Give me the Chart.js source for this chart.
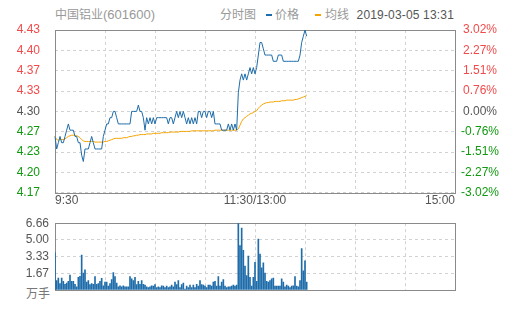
<!DOCTYPE html>
<html>
<head>
<meta charset="utf-8">
<script src="https://cdn.jsdelivr.net/npm/chart.js@4.4.1/dist/chart.umd.min.js"></script>
<style>
body{margin:0;width:505px;height:310px;background:#fff;position:relative;overflow:hidden;
  font-family:"Liberation Sans",Arial,"Noto Sans CJK SC",sans-serif;}
.t{position:absolute;font-size:12px;line-height:14px;white-space:nowrap;}
.dash{position:absolute;width:6px;height:2px;}
canvas{position:absolute;left:0;}
</style>
</head>
<body>
<div class="t" style="left:55px;top:8px;color:#999">中国铝业<span style="font-size:13px">(601600)</span></div>
<div class="t" style="left:220px;top:8px;color:#999">分时图</div>
<div class="dash" style="left:266px;top:14px;background:#1e6ca9"></div>
<div class="t" style="left:275px;top:8px;color:#999">价格</div>
<div class="dash" style="left:315px;top:14px;background:#f5a300"></div>
<div class="t" style="left:325px;top:8px;color:#999">均线</div>
<div class="t" style="right:51px;top:8px;color:#555;letter-spacing:0.17px">2019-03-05 13:31</div>
<div class="t" id="unit" style="left:26px;top:287px;color:#777"></div>

<canvas id="priceChart" width="505" height="215" style="top:0"></canvas>
<canvas id="volChart" width="505" height="100" style="top:210px"></canvas>

<script>
// ================================
// DATA (one value per minute from 9:30)
// ================================
const price = [
  4.26,4.24,4.25,4.26,4.25,4.25,4.26,4.27,4.28,4.27,
  4.27,4.27,4.26,4.26,4.25,4.25,4.23,4.22,4.24,4.24,
  4.24,4.25,4.26,4.25,4.24,4.24,4.24,4.24,4.24,4.26,
  4.27,4.28,4.28,4.29,4.29,4.30,4.30,4.29,4.28,4.28,
  4.28,4.28,4.28,4.28,4.28,4.28,4.30,4.30,4.30,4.30,
  4.31,4.30,4.30,4.29,4.27,4.29,4.28,4.29,4.28,4.29,
  4.28,4.29,4.29,4.29,4.29,4.29,4.29,4.29,4.28,4.29,
  4.29,4.28,4.29,4.30,4.29,4.30,4.29,4.30,4.29,4.28,
  4.29,4.28,4.29,4.28,4.29,4.28,4.30,4.30,4.29,4.30,
  4.30,4.29,4.30,4.30,4.29,4.30,4.28,4.28,4.28,4.28,
  4.27,4.27,4.27,4.27,4.28,4.27,4.28,4.27,4.28,4.27,
  4.33,4.35,4.36,4.35,4.36,4.35,4.36,4.37,4.36,4.37,
  4.36,4.37,4.39,4.41,4.41,4.40,4.39,4.39,4.39,4.39,
  4.39,4.38,4.38,4.38,4.39,4.39,4.39,4.38,4.38,4.38,
  4.38,4.38,4.38,4.38,4.38,4.38,4.38,4.39,4.41,4.42,
  4.43,4.42
];
const avg = [
  4.260,4.255,4.254,4.255,4.255,4.255,4.256,4.258,4.260,4.261,
  4.262,4.262,4.262,4.261,4.260,4.258,4.255,4.253,4.252,4.252,
  4.252,4.252,4.252,4.252,4.251,4.251,4.251,4.251,4.251,4.251,
  4.252,4.252,4.253,4.254,4.255,4.256,4.257,4.257,4.257,4.257,
  4.257,4.258,4.258,4.258,4.259,4.260,4.260,4.261,4.261,4.262,
  4.262,4.263,4.263,4.263,4.263,4.264,4.264,4.264,4.264,4.265,
  4.265,4.265,4.265,4.265,4.266,4.266,4.266,4.266,4.266,4.267,
  4.267,4.267,4.267,4.267,4.267,4.268,4.268,4.268,4.268,4.268,
  4.268,4.268,4.269,4.269,4.269,4.269,4.269,4.269,4.269,4.269,
  4.269,4.269,4.269,4.269,4.269,4.269,4.270,4.270,4.270,4.270,
  4.270,4.270,4.270,4.270,4.270,4.270,4.270,4.270,4.270,4.270,
  4.272,4.278,4.284,4.288,4.290,4.292,4.294,4.296,4.297,4.298,
  4.300,4.301,4.305,4.308,4.310,4.312,4.313,4.314,4.314,4.315,
  4.315,4.315,4.316,4.316,4.316,4.316,4.317,4.317,4.317,4.318,
  4.318,4.318,4.318,4.318,4.319,4.319,4.320,4.321,4.322,4.323,
  4.324,4.326
];
const volume = [
  3.71,0.95,1.20,0.63,1.20,0.86,0.57,0.70,0.86,1.49,
  0.86,0.86,0.57,0.32,1.27,1.36,3.49,1.68,2.00,0.79,
  0.95,0.54,0.63,0.57,1.33,0.57,0.63,0.86,1.17,0.41,
  0.79,0.79,0.40,0.63,1.05,1.74,1.33,0.70,0.32,0.41,
  0.32,0.41,0.32,0.32,0.32,1.33,1.11,0.95,1.27,0.54,
  0.86,0.57,0.95,0.57,0.48,0.32,0.25,0.32,0.41,0.38,
  0.54,0.25,0.32,0.25,0.41,0.38,0.25,0.38,0.25,0.32,
  0.48,0.32,0.79,0.54,0.95,0.25,0.54,0.70,0.10,0.38,
  0.25,0.48,0.25,0.48,0.25,0.57,0.38,0.95,0.54,0.48,
  0.38,0.25,0.48,0.48,0.38,0.79,0.86,0.38,1.33,0.38,
  0.79,1.05,0.38,0.25,0.32,0.32,0.38,0.48,0.38,0.48,
  6.66,4.44,6.18,3.96,2.38,1.43,3.39,1.27,0.38,1.27,
  2.76,0.86,5.07,3.58,2.22,2.70,1.68,0.86,0.79,0.95,
  1.11,1.20,0.38,0.38,0.38,0.38,1.11,0.79,0.32,0.48,
  0.38,0.25,0.38,0.41,1.33,0.38,0.32,0.95,4.12,1.90,
  2.92,0.80
];

// axis ticks
const priceTickLabels = ['4.17','4.20','4.23','4.27','4.30','4.33','4.37','4.40','4.43'];
const pctTickLabels = ['-3.02%','-2.27%','-1.51%','-0.76%','0.00%','0.76%','1.51%','2.27%','3.02%'];
const volTickLabels = ['', '1.67', '3.33', '5.00', '6.66'];
const volUnit = '万手';
const timeTicks = [0, 120, 240];
const timeLabels = ['9:30', '11:30/13:00', '15:00'];
const gridMinutes = [0, 30, 60, 90, 120, 150, 180, 210, 240];

const priceMin = 4.17, priceMax = 4.43;
const pctMin = -3.02, pctMax = 3.02;
const volMax = 6.66;

// colors
const BLUE = '#1e6ca9';
const ORANGE = '#f5a300';
const RED = '#f24a4a';
const GREEN = '#119911';
const GREY = '#555';
const GRID = '#d2d2d2';

document.getElementById('unit').innerText = volUnit;

// ================================
// HELPERS
// ================================
const evenTicks = (min, max, n) => {
    const out = [];
    for(let i = 0; i < n; i++) out.push({ value: min + (max - min) * i / (n - 1) });
    return out;
};
const upDownColor = ctx => ctx.index < 4 ? GREEN : ctx.index === 4 ? GREY : RED;

const frame = {
    id: 'frame',
    beforeDatasetsDraw(chart){
        const a = chart.chartArea, ctx = chart.ctx;
        ctx.save();
        ctx.strokeStyle = '#8a8a8a';
        ctx.lineWidth = 1;
        ctx.strokeRect(Math.round(a.left) + 0.5, Math.round(a.top) + 0.5,
                       Math.round(a.right - a.left), Math.round(a.bottom - a.top));
        ctx.restore();
    }
};

Chart.defaults.font.family = '"Liberation Sans", Arial, "Noto Sans CJK SC", sans-serif';
Chart.defaults.font.size = 12;

// ================================
// PRICE CHART
// ================================
new Chart(document.getElementById('priceChart'), {
    type: 'line',
    data: {
        datasets: [
            {
                label: '价格',
                data: price.map((v, i) => ({ x: i, y: v })),
                borderColor: BLUE,
                borderWidth: 1,
                pointRadius: 0,
                tension: 0,
                clip: 2,
                yAxisID: 'y'
            },
            {
                label: '均线',
                data: avg.map((v, i) => ({ x: i, y: v })),
                borderColor: ORANGE,
                borderWidth: 1,
                pointRadius: 0,
                tension: 0,
                clip: 2,
                yAxisID: 'y'
            }
        ]
    },
    options: {
        responsive: false,
        animation: false,
        layout: { padding: { top: 30, left: 0, right: 0, bottom: 0 } },
        plugins: { legend: { display: false }, tooltip: { enabled: false } },
        scales: {
            x: {
                type: 'linear', min: 0, max: 240, offset: false,
                afterBuildTicks: s => { s.ticks = gridMinutes.map(v => ({ value: v })); },
                afterFit: s => { s.height = 15; },
                grid: { color: GRID, drawTicks: false },
                border: { display: false, dash: [3, 3] },
                ticks: {
                    align: 'inner', maxRotation: 0, autoSkip: false, padding: 1, color: GREY,
                    callback: v => { const k = timeTicks.indexOf(v); return k < 0 ? '' : timeLabels[k]; }
                }
            },
            y: {
                position: 'left', min: priceMin, max: priceMax,
                afterBuildTicks: s => { s.ticks = evenTicks(priceMin, priceMax, priceTickLabels.length); },
                afterFit: s => { s.width = 55; },
                grid: { color: GRID, drawTicks: false },
                border: { display: false, dash: [3, 3] },
                ticks: { autoSkip: false, padding: 15, color: upDownColor, callback: (v, i) => priceTickLabels[i] }
            },
            y1: {
                position: 'right', min: pctMin, max: pctMax,
                afterBuildTicks: s => { s.ticks = evenTicks(pctMin, pctMax, pctTickLabels.length); },
                afterFit: s => { s.width = 50; },
                grid: { display: false, drawTicks: false },
                border: { display: false },
                ticks: { autoSkip: false, crossAlign: 'center', padding: 6, color: upDownColor, callback: (v, i) => pctTickLabels[i] }
            }
        }
    },
    plugins: [frame]
});

// ================================
// VOLUME CHART
// ================================
new Chart(document.getElementById('volChart'), {
    type: 'bar',
    data: {
        datasets: [{
            data: volume.map((v, i) => ({ x: i, y: v })),
            backgroundColor: BLUE,
            barThickness: 1,
            grouped: false,
            yAxisID: 'y'
        }]
    },
    options: {
        responsive: false,
        animation: false,
        layout: { padding: { top: 10, left: 0, right: 0, bottom: 0 } },
        plugins: { legend: { display: false }, tooltip: { enabled: false } },
        scales: {
            x: {
                type: 'linear', min: 0, max: 240, offset: false,
                afterBuildTicks: s => { s.ticks = gridMinutes.map(v => ({ value: v })); },
                afterFit: s => { s.height = 20; },
                grid: { color: GRID, drawTicks: false, offset: false },
                border: { display: false, dash: [3, 3] },
                ticks: { display: false }
            },
            y: {
                position: 'left', min: 0, max: volMax,
                afterBuildTicks: s => { s.ticks = evenTicks(0, volMax, volTickLabels.length); },
                afterFit: s => { s.width = 55; },
                grid: { color: GRID, drawTicks: false },
                border: { display: false, dash: [3, 3] },
                ticks: { autoSkip: false, padding: 6, color: GREY, callback: (v, i) => volTickLabels[i] }
            },
            y1: {
                position: 'right', min: 0, max: volMax,
                afterFit: s => { s.width = 50; },
                grid: { display: false, drawTicks: false },
                border: { display: false },
                ticks: { display: false }
            }
        }
    },
    plugins: [frame]
});
</script>
</body>
</html>
